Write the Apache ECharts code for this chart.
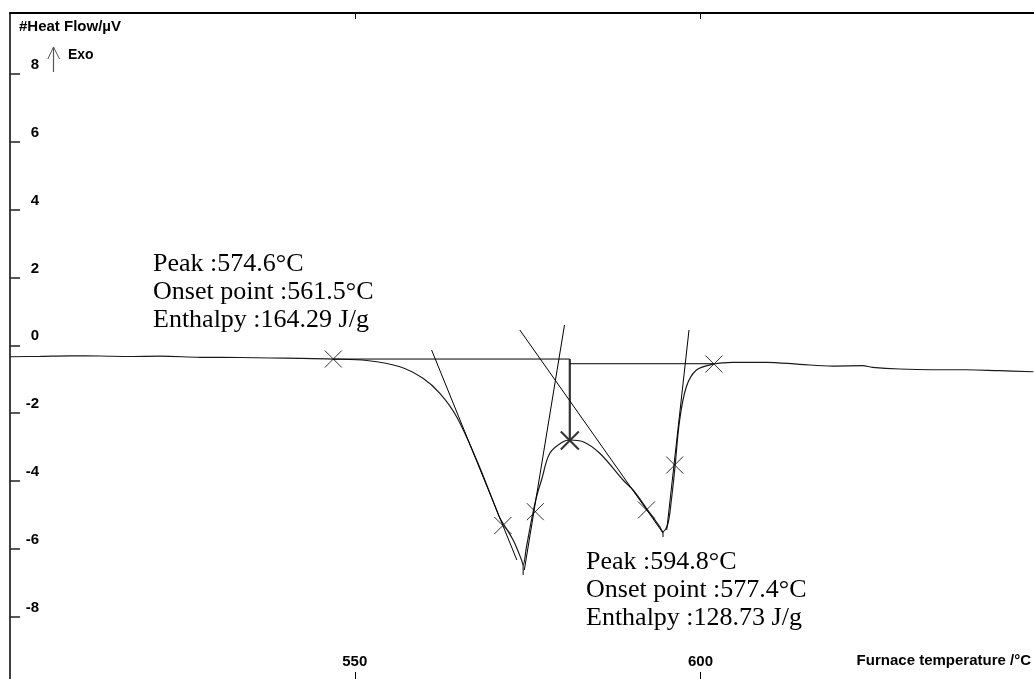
<!DOCTYPE html>
<html><head><meta charset="utf-8">
<script src="https://cdn.jsdelivr.net/npm/echarts@6/dist/echarts.min.js"></script>
<style>html,body{margin:0;padding:0;background:#fff}#c{width:1034px;height:679px}</style>
</head><body><div id="c"></div>
<script>
// Furnace temperature (°C) and heat flow (µV)
const curveT = [500.17,504.51,508.84,513.18,517.51,521.85,527.63,533.41,537.75,542.08,546.85,551.72,556.53,559.86,562.31,564.73,567.62,570.51,570.98,572.90,574.12,574.35,574.84,575.56,576.29,577.01,578.21,580.13,581.10,583.02,585.43,588.80,590.25,592.18,594.10,594.58,595.30,595.79,596.27,596.99,597.96,599.41,601.91,604.65,609.52,614.34,619.10,623.44,624.88,628.79,633.55,638.42,643.24,648.15];
const curveHF = [-0.336,-0.324,-0.309,-0.315,-0.330,-0.321,-0.353,-0.359,-0.374,-0.383,-0.404,-0.448,-0.630,-0.972,-1.414,-2.103,-3.378,-4.851,-5.087,-5.735,-6.324,-6.471,-5.932,-5.146,-4.459,-3.968,-3.181,-2.839,-2.789,-2.839,-3.181,-3.968,-4.262,-4.801,-5.343,-5.490,-5.243,-4.557,-3.673,-2.200,-1.219,-0.728,-0.551,-0.501,-0.501,-0.560,-0.610,-0.601,-0.648,-0.698,-0.719,-0.719,-0.748,-0.778];

// evaluation markers (×)
const markT = [546.89, 571.42, 576.11, 592.18, 596.27, 601.95];
const markHF = [-0.404, -5.308, -4.901, -4.851, -3.526, -0.551];
const splitT = [581.10];
const splitHF = [-2.804];

// baselines
const base1T = [546.89, 581.10], base1HF = [-0.404, -0.404];
const splitLineT = [581.10, 581.10], splitLineHF = [-0.404, -2.804];
const base2T = [581.10, 601.95], base2HF = [-0.542, -0.542];

// tangents
const tanAT = [561.11, 573.44], tanAHF = [-0.138, -6.324];
const tanBT = [580.33, 574.52], tanBHF = [0.598, -6.619];
const tanCT = [573.87, 594.58], tanCHF = [0.451, -5.529];
const tanDT = [598.34, 595.12], tanDHF = [0.451, -5.440];

// peak cursors
const peak1T = [574.35, 574.35], peak1HF = [-6.471, -6.766];
const peak2T = [594.58, 594.58], peak2HF = [-5.490, -5.646];

// axes ticks
const xTicks = [550, 600];
const yTicks = [-8, -6, -4, -2, 0, 2, 4, 6, 8];

const note1 = ['Peak :574.6°C', 'Onset point :561.5°C', 'Enthalpy :164.29 J/g'];
const note2 = ['Peak :594.8°C', 'Onset point :577.4°C', 'Enthalpy :128.73 J/g'];

const zip = (a, b) => a.map((v, i) => [v, b[i]]);
const seg = (t, h, w, c) => ({
  type: 'line', data: zip(t, h), symbol: 'none', silent: true, animation: false,
  lineStyle: { color: c || '#000', width: w || 1 }
});

const chart = echarts.init(document.getElementById('c'), null, { renderer: 'canvas' });
const sans = 'Liberation Sans, Arial, sans-serif';
const serif = 'Liberation Serif, Times New Roman, serif';

chart.setOption({
  animation: false,
  backgroundColor: '#fff',
  grid: { left: 10, right: 0, top: 13, bottom: 0, containLabel: false },
  xAxis: [{
    type: 'value', position: 'bottom', min: 500.13, max: 648.24,
    splitLine: { show: false },
    axisLine: { show: false, onZero: false },
    axisTick: { show: true, inside: true, length: 7, customValues: xTicks, lineStyle: { color: '#000', width: 1 } },
    axisLabel: { show: true, inside: true, margin: 10, customValues: xTicks, color: '#000', fontFamily: sans, fontWeight: 'bold', fontSize: 15 }
  }, {
    type: 'value', position: 'top', min: 500.13, max: 648.24,
    splitLine: { show: false },
    axisLine: { show: true, onZero: false, lineStyle: { color: '#000', width: 2 } },
    axisTick: { show: true, inside: true, length: 6, customValues: xTicks, lineStyle: { color: '#000', width: 1 } },
    axisLabel: { show: false }
  }],
  yAxis: {
    type: 'value', min: -9.83, max: 9.79,
    splitLine: { show: false },
    axisLine: { show: true, onZero: false, lineStyle: { color: '#000', width: 1.5 } },
    axisTick: { show: true, inside: true, length: 10, customValues: yTicks, lineStyle: { color: '#222', width: 1.5 } },
    axisLabel: { show: true, inside: true, margin: 29, align: 'right', verticalAlign: 'bottom', lineHeight: 16, padding: [0, 0, 1, 0],
      customValues: yTicks, color: '#000', fontFamily: sans, fontWeight: 'bold', fontSize: 15 }
  },
  series: [
    { type: 'line', data: zip(curveT, curveHF), symbol: 'none', smooth: 0.35, silent: true,
      lineStyle: { color: '#1a1a1a', width: 1.2 } },
    seg(base1T, base1HF, 1),
    seg(splitLineT, splitLineHF, 2.2, '#333'),
    seg(base2T, base2HF, 1),
    seg(tanAT, tanAHF, 1),
    seg(tanBT, tanBHF, 1),
    seg(tanCT, tanCHF, 1),
    seg(tanDT, tanDHF, 1),
    seg(peak1T, peak1HF, 1),
    seg(peak2T, peak2HF, 1),
    { type: 'scatter', data: zip(markT, markHF), symbol: 'path://M0,0L10,10M10,0L0,10', symbolSize: 17, silent: true,
      itemStyle: { color: 'none', borderColor: '#000', borderWidth: 1 } },
    { type: 'scatter', data: zip(splitT, splitHF), symbol: 'path://M0,0L10,10M10,0L0,10', symbolSize: 18, silent: true,
      itemStyle: { color: 'none', borderColor: '#000', borderWidth: 2 } }
  ],
  graphic: [
    { type: 'text', left: 19, top: 19, style: { text: '#Heat Flow/µV', font: 'bold 15px ' + sans, fill: '#000' } },
    { type: 'text', left: 68, top: 48, style: { text: 'Exo', font: 'bold 14px ' + sans, fill: '#000' } },
    { type: 'polyline', shape: { points: [[53.5, 72], [53.5, 47]] }, style: { stroke: '#555', lineWidth: 1.2 } },
    { type: 'polyline', shape: { points: [[47.8, 59], [53.5, 47], [59.5, 59]] }, style: { stroke: '#555', lineWidth: 1, fill: null } },
    { type: 'text', right: 3, top: 653, style: { text: 'Furnace temperature /°C', font: 'bold 15px ' + sans, fill: '#000' } },
    { type: 'text', left: 153, top: 250, style: { text: note1.join('\n'), font: '26px ' + serif, lineHeight: 28, fill: '#000' } },
    { type: 'text', left: 586, top: 548, style: { text: note2.join('\n'), font: '26px ' + serif, lineHeight: 28, fill: '#000' } }
  ]
});
</script>
</body></html>
